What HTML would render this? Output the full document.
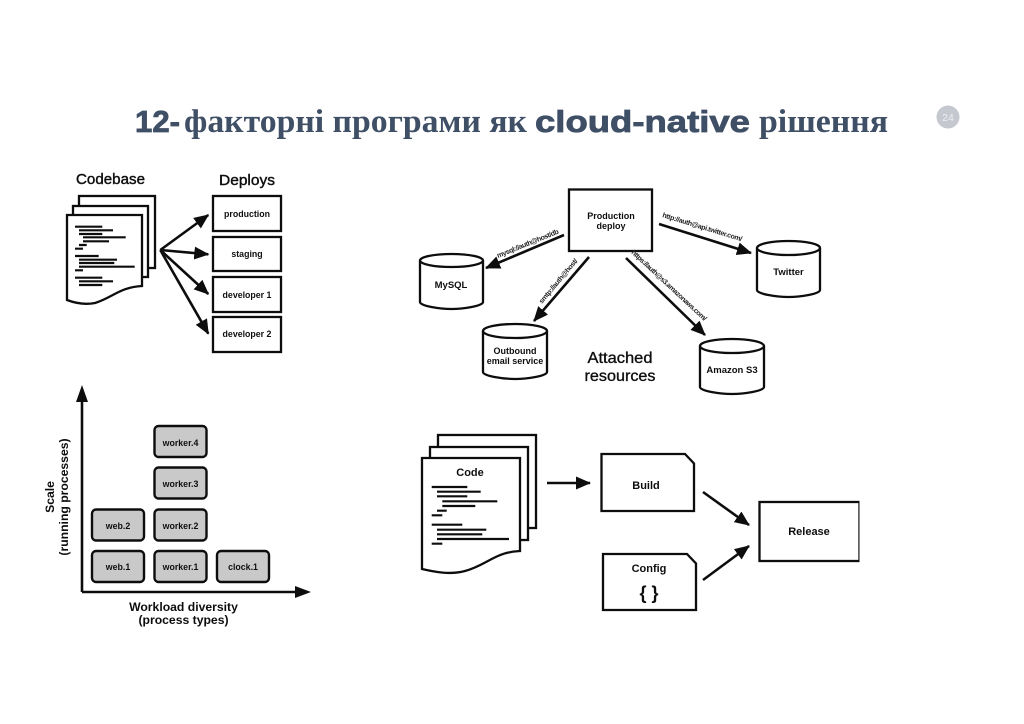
<!DOCTYPE html>
<html><head><meta charset="utf-8"><style>
html,body{margin:0;padding:0;background:#fff;width:1024px;height:724px;overflow:hidden}
svg{display:block}
.s{font-family:"Liberation Sans",sans-serif;fill:#111}
.b{font-family:"Liberation Sans",sans-serif;font-weight:bold;fill:#111;text-anchor:middle}
.box{fill:#fff;stroke:#111;stroke-width:2.3}
.gr{fill:#c9c9c9;stroke:#111;stroke-width:2.4}
.ar{stroke:#111;stroke-width:2.6;fill:none;marker-end:url(#h)}
</style></head><body>
<svg width="1024" height="724" viewBox="0 0 1024 724" xmlns="http://www.w3.org/2000/svg">
<defs>
<marker id="h" markerUnits="userSpaceOnUse" markerWidth="16" markerHeight="14" refX="14" refY="6.500" orient="auto"><path d="M0 0L15 6.500L0 13Z" fill="#111"/></marker>
<filter id="bl" x="0" y="0" width="100%" height="100%"><feGaussianBlur stdDeviation="0.35"/></filter>
</defs>

<g fill="#3f4f66">
<g font-family="'Liberation Sans',sans-serif" font-weight="bold" font-size="31" stroke="#3f4f66" stroke-width="0.8">
<text x="135" y="132" textLength="45" lengthAdjust="spacingAndGlyphs">12-</text>
<text x="535" y="132" textLength="215" lengthAdjust="spacingAndGlyphs">cloud-native</text>
</g>
<g font-family="'Liberation Serif','DejaVu Serif',serif" font-weight="bold" font-size="33">
<text x="184" y="132" textLength="343" lengthAdjust="spacingAndGlyphs">факторні програми як</text>
<text x="759" y="132" textLength="129" lengthAdjust="spacingAndGlyphs">рішення</text>
</g>
</g>
<circle cx="948" cy="117" r="11.5" fill="#c6c8d0"/>
<text x="948" y="121" text-anchor="middle" font-family="'Liberation Sans',sans-serif" font-size="10.5" fill="#eceef2">24</text>

<g filter="url(#bl)">
<!-- Codebase -->
<text x="110.500" y="184" class="b" style="font-weight:normal;stroke:#111;stroke-width:.4" font-size="14.500" textLength="69" lengthAdjust="spacingAndGlyphs">Codebase</text>
<text x="247" y="185" class="b" style="font-weight:normal;stroke:#111;stroke-width:.4" font-size="14.500" textLength="56" lengthAdjust="spacingAndGlyphs">Deploys</text>
<rect class="box" x="79" y="196" width="76" height="72"/>
<rect class="box" x="73" y="206" width="75" height="71"/>
<path class="box" d="M67 215H142V286C120 287 112 298 95 303C85 305 75 303 67 300Z"/>
<g stroke="#111" stroke-width="2.2">
<path d="M75 226.700H102.300M79 230.300H113M79 234H102.300M83 237.300H125.700M83 241.300H109M79 245H86.700M75 248.700H83M75 256H98.700M79 259.700H117M79 263H114.300M79 266.700H134.700M75 270.300H83M75 277.700H102.300M79 281.300H113M79 285H102.300"/>
</g>
<rect class="box" x="213" y="196" width="68" height="35"/>
<rect class="box" x="213" y="237" width="68" height="34"/>
<rect class="box" x="213" y="277" width="68" height="35"/>
<rect class="box" x="213" y="317" width="68" height="35"/>
<g font-size="8.800"><text class="b" x="247" y="217">production</text><text class="b" x="247" y="257">staging</text><text class="b" x="247" y="298">developer 1</text><text class="b" x="247" y="337">developer 2</text></g>
<path class="ar" d="M160.300 250L208.300 215"/><path class="ar" d="M160.300 250L208.300 254.300"/><path class="ar" d="M160.300 250L208.300 294"/><path class="ar" d="M160.300 250L208.300 333.700"/>

<!-- Attached resources -->
<rect class="box" x="569" y="189.500" width="83" height="61.500"/>
<text class="b" x="611" y="219" font-size="9">Production</text><text class="b" x="611" y="229" font-size="9">deploy</text>
<g class="box">
<path d="M420 260.500V302C420 306 440 309 451.500 309C463 309 483 306 483 302V260.500"/><ellipse cx="451.500" cy="260.500" rx="31.500" ry="6.500"/>
<path d="M483 331V372C483 376 503 379 515 379C527 379 547 376 547 372V331"/><ellipse cx="515" cy="331" rx="32" ry="7"/>
<path d="M700 346V387C700 391 720 394 732 394C744 394 764 391 764 387V346"/><ellipse cx="732" cy="346" rx="32" ry="7"/>
<path d="M757 248V290C757 294 777 297 788.500 297C800 297 820 294 820 290V248"/><ellipse cx="788.500" cy="248" rx="31.500" ry="7"/>
</g>
<g font-size="9.500"><text class="b" x="451" y="288">MySQL</text><text class="b" x="515" y="354" font-size="9">Outbound</text><text class="b" x="515" y="364" font-size="9">email service</text><text class="b" x="732" y="373">Amazon S3</text><text class="b" x="788.500" y="275">Twitter</text></g>
<path class="ar" d="M564 235L486 268"/><path class="ar" d="M659 224L751 253"/><path class="ar" d="M589 257L534 321"/><path class="ar" d="M626 258L705 335"/>
<g font-family="'Liberation Sans',sans-serif" font-weight="bold" font-size="7" fill="#222">
<text transform="translate(498,258) rotate(-22)" textLength="66" lengthAdjust="spacing">mysql://auth@host/db</text>
<text transform="translate(662,217) rotate(17)" textLength="83" lengthAdjust="spacing">http://auth@api.twitter.com/</text>
<text transform="translate(542,304) rotate(-50)" textLength="56" lengthAdjust="spacing">smtp://auth@host/</text>
<text transform="translate(631,253) rotate(43)" textLength="100" lengthAdjust="spacing">https://auth@s3.amazonaws.com/</text>
</g>
<text x="620" y="363" text-anchor="middle" class="s" style="stroke:#111;stroke-width:.35" font-size="15.500" textLength="65" lengthAdjust="spacingAndGlyphs">Attached</text>
<text x="620" y="381" text-anchor="middle" class="s" style="stroke:#111;stroke-width:.35" font-size="15.500" textLength="71" lengthAdjust="spacingAndGlyphs">resources</text>

<!-- Scale -->
<path d="M82 592V392M82 592H304" stroke="#111" stroke-width="2.6" fill="none"/>
<path d="M82 385L88 402H76ZM311 592L295 586V598Z" fill="#111"/>
<g>
<rect class="gr" x="92" y="551" width="52" height="31" rx="4"/><rect class="gr" x="92" y="509.500" width="52" height="31" rx="4"/>
<rect class="gr" x="154.500" y="551" width="52" height="31" rx="4"/><rect class="gr" x="154.500" y="509.500" width="52" height="31" rx="4"/><rect class="gr" x="154.500" y="467.500" width="52" height="31" rx="4"/><rect class="gr" x="154.500" y="426" width="52" height="31" rx="4"/>
<rect class="gr" x="217" y="551" width="52" height="31" rx="4"/>
</g>
<g font-size="8.800"><text class="b" x="118" y="570">web.1</text><text class="b" x="118" y="529">web.2</text><text class="b" x="180.500" y="570">worker.1</text><text class="b" x="180.500" y="529">worker.2</text><text class="b" x="180.500" y="487">worker.3</text><text class="b" x="180.500" y="446">worker.4</text><text class="b" x="243" y="570">clock.1</text></g>
<text class="b" x="183.500" y="611" font-size="12.200">Workload diversity</text><text class="b" x="183.500" y="624" font-size="12.200">(process types)</text>
<text class="b" font-size="12.200" transform="translate(54,497) rotate(-90)">Scale</text>
<text class="b" font-size="12.200" transform="translate(68,497) rotate(-90)">(running processes)</text>

<!-- Build/release -->
<rect class="box" x="438" y="435" width="98" height="93"/>
<rect class="box" x="430" y="447" width="98" height="93"/>
<path class="box" d="M422 458H520V551C495 552 487 565 465 571C450 575 435 572 422 569Z"/>
<text class="b" x="470" y="476" font-size="11">Code</text>
<g stroke="#111" stroke-width="2.2"><path d="M431.700 487H467.300M437 491.700H480.700M437 496.300H467.300M442.300 501.300H497.300M442.300 506H475.300M437 510.700H446.700M431.700 515.300H442.300M431.700 524.700H462.300M437 529.700H486.300M437 534.300H482.300M437 539H509M431.700 543.700H442.300"/></g>
<path class="box" d="M601.500 454H685L694 463.500V511H601.500Z"/>
<path class="box" d="M603 554H687L696 563.500V610H603Z"/>
<rect class="box" x="759.500" y="502" width="100" height="59"/>
<text class="b" x="646" y="489" font-size="11">Build</text><text class="b" x="649" y="572" font-size="11">Config</text><text class="b" x="649" y="599" font-size="18">{ }</text><text class="b" x="809" y="535" font-size="11">Release</text>
<path class="ar" d="M547 483H590"/><path class="ar" d="M703 492L749 525"/><path class="ar" d="M703 580L749 546"/>
</g>
</svg>
</body></html>
